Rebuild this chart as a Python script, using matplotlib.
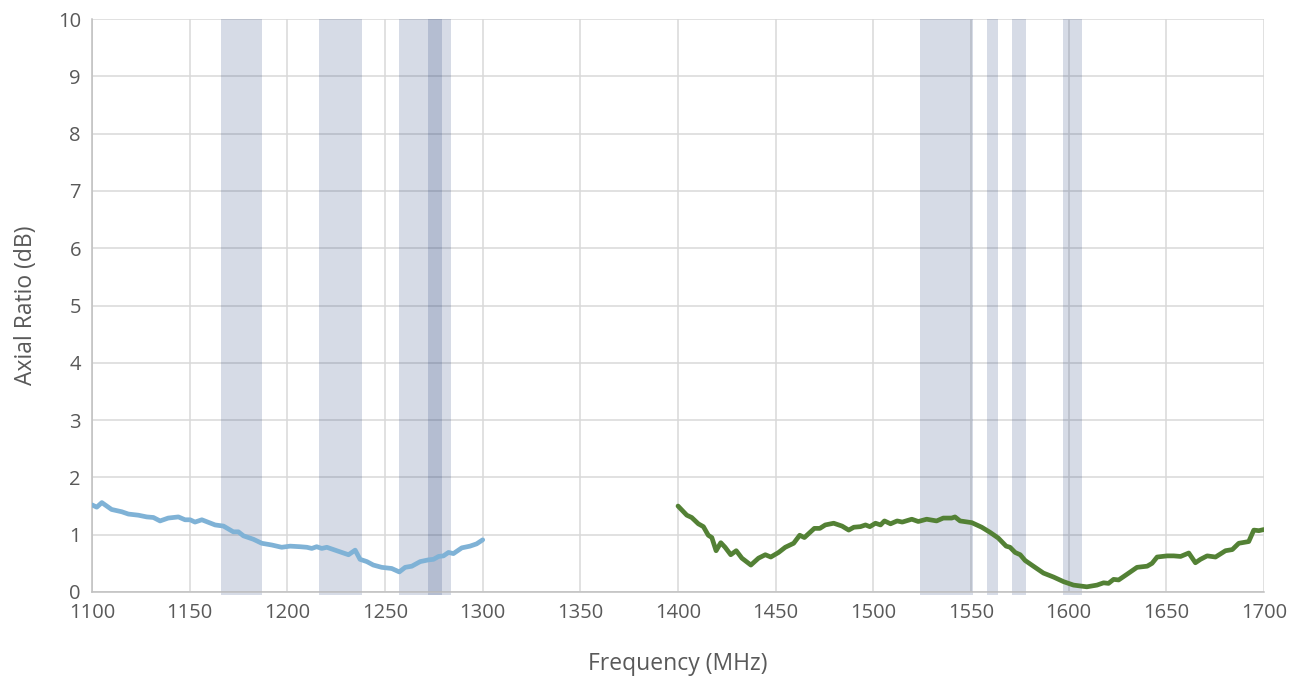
import numpy as np
import matplotlib
matplotlib.use("Agg")
import matplotlib.pyplot as plt

# low band trace (MHz, dB)
low_f = [1100, 1102.4, 1105, 1110, 1115.2, 1118.6, 1123.7, 1128, 1131.4, 1134.8, 1139, 1144.2,
         1147.6, 1150.2, 1152.7, 1156.2, 1163, 1167.3, 1172.3, 1174.9, 1177.5, 1182.6, 1186.9,
         1192, 1197.1, 1201.4, 1206.5, 1210, 1212.5, 1215, 1217.6, 1220.2, 1225.3, 1231.3,
         1234.7, 1237.2, 1240.7, 1244, 1248.3, 1253.4, 1257.3, 1260.3, 1263.7, 1268, 1272.2,
         1274.8, 1277.4, 1279.9, 1282.5, 1285, 1289.3, 1293.5, 1296.9, 1300]
low_ar = [1.52, 1.48, 1.56, 1.44, 1.40, 1.36, 1.34, 1.31, 1.30, 1.24, 1.29, 1.31,
          1.26, 1.26, 1.22, 1.26, 1.17, 1.15, 1.05, 1.05, 0.98, 0.92, 0.85,
          0.82, 0.78, 0.80, 0.79, 0.78, 0.76, 0.79, 0.76, 0.78, 0.72, 0.65,
          0.73, 0.57, 0.53, 0.47, 0.43, 0.41, 0.35, 0.43, 0.45, 0.53, 0.56,
          0.57, 0.62, 0.63, 0.69, 0.67, 0.77, 0.80, 0.84, 0.91]

# high band trace
high_f = [1400, 1404.5, 1407, 1410.4, 1413, 1415.5, 1417.3, 1419.5, 1421.9, 1424.1, 1427, 1429.8,
          1432.7, 1437.3, 1441.2, 1444.7, 1447.5, 1451.5, 1454.9, 1459.2, 1462.3, 1464.7, 1469.8,
          1472.6, 1475.4, 1479.7, 1484, 1487.4, 1490, 1493.4, 1496, 1498.2, 1501.1, 1503.7,
          1505.7, 1508.8, 1512.2, 1514.8, 1519.7, 1523, 1527.3, 1532.4, 1535.8, 1540.1, 1541.8,
          1544.4, 1550.4, 1555.5, 1559.8, 1564, 1568, 1570, 1572.6, 1575.2, 1577.7, 1582.8,
          1587.1, 1592.3, 1597.4, 1602.5, 1609.3, 1614.5, 1617.9, 1620.4, 1623, 1625.6, 1629.9,
          1635, 1640.2, 1642.7, 1645.3, 1650.4, 1653.8, 1657.3, 1661.5, 1664.9, 1667.5, 1670.9,
          1675.2, 1680.3, 1683.8, 1687.1, 1692.2, 1694.8, 1697.4, 1700]
high_ar = [1.50, 1.34, 1.30, 1.19, 1.14, 0.99, 0.95, 0.72, 0.86, 0.78, 0.65, 0.72,
           0.59, 0.47, 0.59, 0.65, 0.61, 0.69, 0.78, 0.85, 0.99, 0.95, 1.11,
           1.11, 1.17, 1.20, 1.15, 1.08, 1.13, 1.14, 1.17, 1.14, 1.20, 1.17,
           1.24, 1.19, 1.24, 1.22, 1.27, 1.23, 1.27, 1.24, 1.29, 1.29, 1.31,
           1.24, 1.21, 1.13, 1.04, 0.94, 0.80, 0.78, 0.69, 0.65, 0.55, 0.43,
           0.33, 0.26, 0.18, 0.12, 0.09, 0.12, 0.16, 0.15, 0.22, 0.21, 0.31,
           0.43, 0.45, 0.50, 0.61, 0.63, 0.63, 0.62, 0.68, 0.51, 0.57, 0.63,
           0.61, 0.72, 0.74, 0.85, 0.88, 1.08, 1.07, 1.09]

# GNSS band shading (start, stop) in MHz
bands = [(1166, 1187), (1216, 1238), (1257, 1284), (1272, 1279),
         (1524, 1551), (1558, 1564), (1571, 1578), (1597, 1607)]

plt.rcParams['font.family'] = ['Open Sans', 'DejaVu Sans']

fig = plt.figure(figsize=(13.04, 6.82), dpi=100)
ax = fig.add_axes([0.0706, 0.132, 0.8987, 0.8401])

for lo, hi in bands:
    ax.axvspan(lo, hi, ymin=-0.006, ymax=1, color="#0e2b6c", alpha=0.17, lw=0, zorder=1, clip_on=False)

ax.plot(low_f, low_ar, color="#7fb2d6", lw=3.4, solid_capstyle="round", zorder=3)
ax.plot(high_f, high_ar, color="#538135", lw=3.4, solid_capstyle="round", zorder=3)

ax.set_xlim(1100, 1700)
ax.set_ylim(0, 10)
ax.set_xticks(np.arange(1100, 1701, 50))
ax.set_yticks(np.arange(0, 11, 1))
ax.grid(True, color="#d9d9d9", lw=1.1, zorder=0)
ax.set_axisbelow(True)
ax.tick_params(length=0, labelsize=14.5, labelcolor="#595959", pad=8)

for s in ["top", "right"]:
    ax.spines[s].set_visible(False)
for s in ["left", "bottom"]:
    ax.spines[s].set_color("#bfbfbf")
    ax.spines[s].set_linewidth(1.1)

ax.set_xlabel("Frequency (MHz)", fontsize=16.5, color="#595959", labelpad=21)
ax.set_ylabel("Axial Ratio (dB)", fontsize=16.5, color="#595959", labelpad=14)

fig.savefig("out.png", dpi=100)
